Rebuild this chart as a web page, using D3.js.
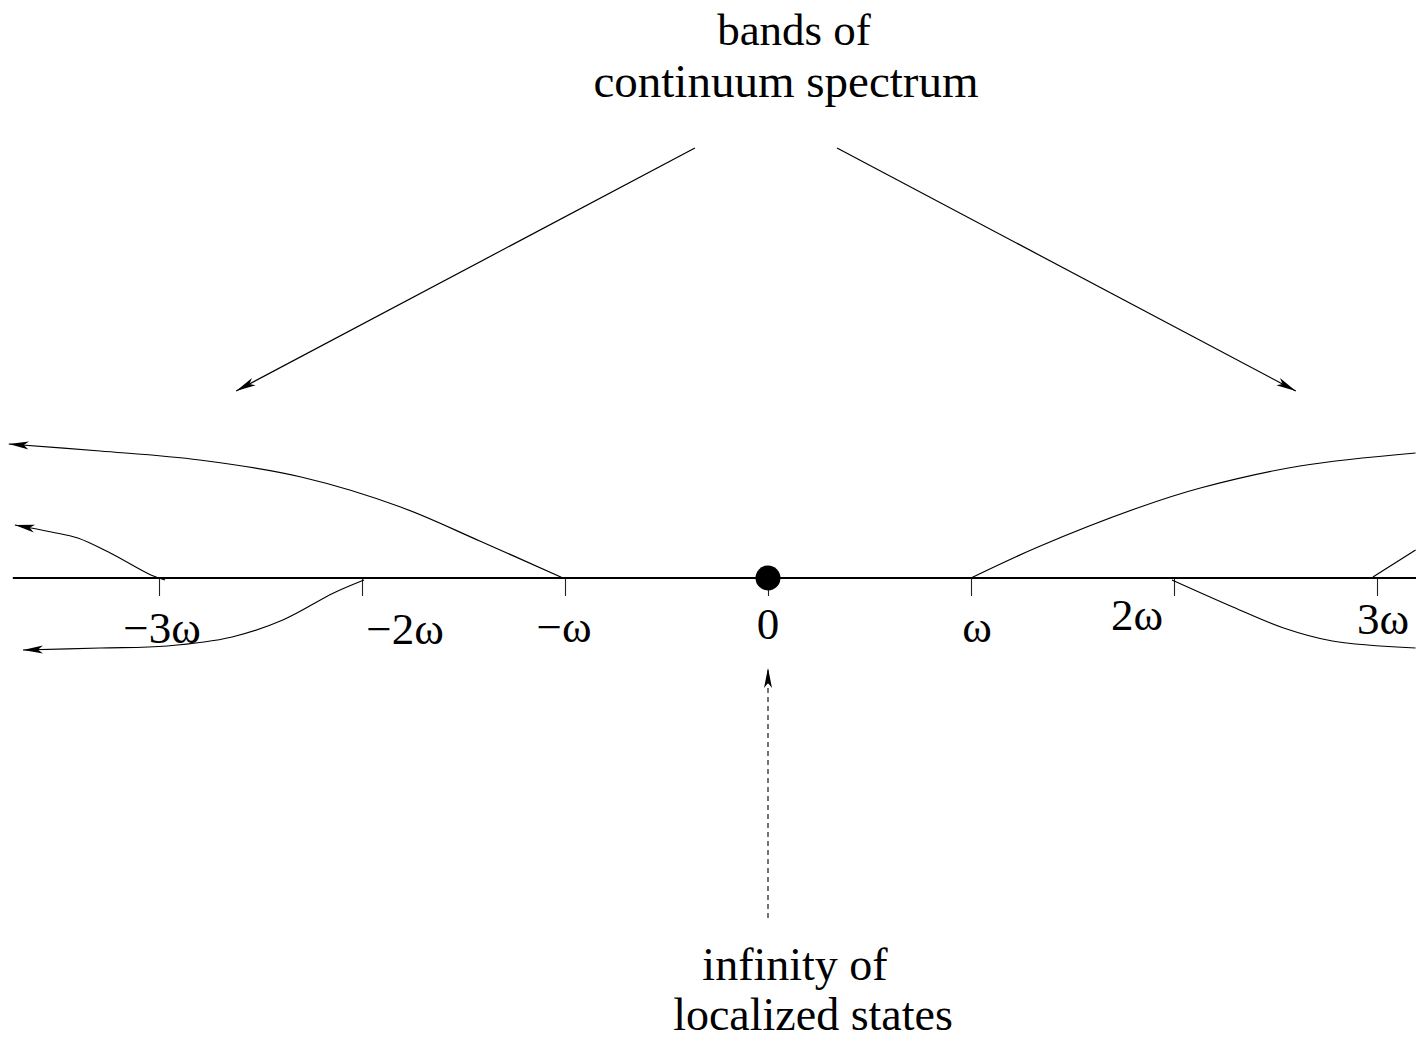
<!DOCTYPE html>
<html>
<head>
<meta charset="utf-8">
<script src="https://cdn.jsdelivr.net/npm/d3@7"></script>
<style>
  html, body { margin: 0; padding: 0; background: #fff; }
  svg { display: block; }
</style>
</head>
<body>
<div id="chart"></div>
<script>
// Real axis in units of omega, vertical is just "how far the branch leaves the axis".
const tickValues = [-3, -2, -1, 0, 1, 2, 3];
const tickLabels = ['\u22123\u03c9', '\u22122\u03c9', '\u2212\u03c9', '0', '\u03c9', '2\u03c9', '3\u03c9'];

// Continuum branches, [omega, height], from the axis outwards.
const branchMinus1 = [[-1.01, 0], [-1.42, 0.37], [-1.81, 0.71], [-2.3, 1.01], [-2.8, 1.18], [-3.29, 1.27], [-3.74, 1.34]];
const branchMinus2 = [[-1.99, -0.02], [-2.14, -0.15], [-2.39, -0.42], [-2.64, -0.59], [-2.96, -0.68], [-3.29, -0.7], [-3.67, -0.72]];
const branchMinus3 = [[-2.97, -0.02], [-3.04, 0.03], [-3.24, 0.25], [-3.4, 0.4], [-3.53, 0.46], [-3.71, 0.53]];
const branchPlus1 = [[1, 0], [1.33, 0.31], [1.82, 0.7], [2.13, 0.9], [2.62, 1.12], [3.19, 1.25]];
const branchPlus2 = [[1.99, -0.02], [2.29, -0.29], [2.54, -0.5], [2.78, -0.63], [3.19, -0.7]];
const branchPlus3 = [[2.98, 0.01], [3.19, 0.28]];

// Annotation arrows, [from, to].
const spectrumArrows = [[[-0.36, 4.3], [-2.62, 1.87]], [[0.34, 4.3], [2.6, 1.87]]];
const localizedArrow = [[0, -3.4], [0, -0.9]];

const topLabel = ['bands of', 'continuum spectrum'];
const bottomLabel = ['infinity of', 'localized states'];

// -----------------------------------------------------------------
const width = 1416, height = 1041;
const X0 = 768, UNIT = 203;
const FONT = "'Liberation Serif', 'Times New Roman', Times, serif";

var x = d3.scaleLinear()
  .domain([(0 - X0) / UNIT, (width - X0) / UNIT])
  .range([0, width]);
var y = d3.scaleLinear().domain([5.78, -4.63]).range([0, height]);

// tick label nudges (px), the labels are not set exactly under the ticks
var labelDx = [3, 43, -1, 0, 6, -37, 6];
var labelDy = [65, 66, 64, 61, 64, 52, 56];

var $svg = d3.select('#chart').append('svg')
  .attr('width', width)
  .attr('height', height);

var defs = $svg.append('defs');
defs.append('marker')
  .attr('id', 'head')
  .attr('viewBox', '0 -5 20 10')
  .attr('refX', 20)
  .attr('refY', 0)
  .attr('markerUnits', 'userSpaceOnUse')
  .attr('markerWidth', 20)
  .attr('markerHeight', 10)
  .attr('orient', 'auto')
  .append('path')
  .attr('d', 'M20,0 L0,-4 L5,0 L0,4 Z')
  .attr('fill', '#000');

// Ticks.
var xAxis = d3.axisBottom(x).tickValues(tickValues).tickSize(18).tickFormat('');
var $axis = $svg.append('g')
  .attr('class', 'x axis')
  .attr('transform', `translate(0,${y(0)})`)
  .call(xAxis);
$axis.select('.domain').remove();
$axis.selectAll('.tick text').remove();
$axis.selectAll('.tick line').attr('stroke', '#222').attr('stroke-width', 1.1);

// Real axis.
$svg.append('line')
  .attr('x1', x(-3.72)).attr('x2', width)
  .attr('y1', y(0)).attr('y2', y(0))
  .attr('stroke', '#000')
  .attr('stroke-width', 1.8);

$svg.selectAll('text.tick-label')
  .data(tickValues)
  .enter()
  .append('text')
  .attr('class', 'tick-label')
  .attr('text-anchor', 'middle')
  .style('font-family', FONT)
  .style('font-size', '45px')
  .attr('x', (d, i) => x(d) + labelDx[i])
  .attr('y', (d, i) => y(0) + labelDy[i])
  .text((d, i) => tickLabels[i]);

// Branches.
var line = d3.line()
  .x(d => x(d[0]))
  .y(d => y(d[1]))
  .curve(d3.curveCatmullRom.alpha(0.5));

var branches = [
  { pts: branchMinus1, arrow: true },
  { pts: branchMinus2, arrow: true },
  { pts: branchMinus3, arrow: true },
  { pts: branchPlus1, arrow: false },
  { pts: branchPlus2, arrow: false },
  { pts: branchPlus3, arrow: false },
];

$svg.selectAll('path.branch')
  .data(branches)
  .enter()
  .append('path')
  .attr('class', 'branch')
  .attr('d', d => line(d.pts))
  .attr('fill', 'none')
  .attr('stroke', '#000')
  .attr('stroke-width', 1.2)
  .attr('marker-end', d => (d.arrow ? 'url(#head)' : null));

// Annotation arrows.
$svg.selectAll('line.spectrum')
  .data(spectrumArrows)
  .enter()
  .append('line')
  .attr('class', 'spectrum')
  .attr('x1', d => x(d[0][0])).attr('y1', d => y(d[0][1]))
  .attr('x2', d => x(d[1][0])).attr('y2', d => y(d[1][1]))
  .attr('stroke', '#000')
  .attr('stroke-width', 1.2)
  .attr('marker-end', 'url(#head)');

$svg.append('line')
  .attr('x1', x(localizedArrow[0][0])).attr('y1', y(localizedArrow[0][1]))
  .attr('x2', x(localizedArrow[1][0])).attr('y2', y(localizedArrow[1][1]))
  .attr('stroke', '#000')
  .attr('stroke-width', 1.1)
  .attr('stroke-dasharray', '5,4')
  .attr('marker-end', 'url(#head)');

// The bound state at zero.
$svg.append('circle')
  .attr('cx', x(0))
  .attr('cy', y(0))
  .attr('r', 12.5)
  .attr('fill', '#000');

// Text labels.
$svg.append('g').selectAll('text')
  .data(topLabel)
  .enter()
  .append('text')
  .attr('text-anchor', 'middle')
  .style('font-family', FONT)
  .style('font-size', (d, i) => (i === 0 ? '45px' : '47px'))
  .attr('x', (d, i) => (i === 0 ? 794 : 786))
  .attr('y', (d, i) => 45 + i * 52)
  .text(d => d);

$svg.append('g').selectAll('text')
  .data(bottomLabel)
  .enter()
  .append('text')
  .attr('text-anchor', 'middle')
  .style('font-family', FONT)
  .style('font-size', '46px')
  .attr('x', (d, i) => (i === 0 ? 795 : 813))
  .attr('y', (d, i) => 980 + i * 50)
  .text(d => d);
</script>
</body>
</html>
